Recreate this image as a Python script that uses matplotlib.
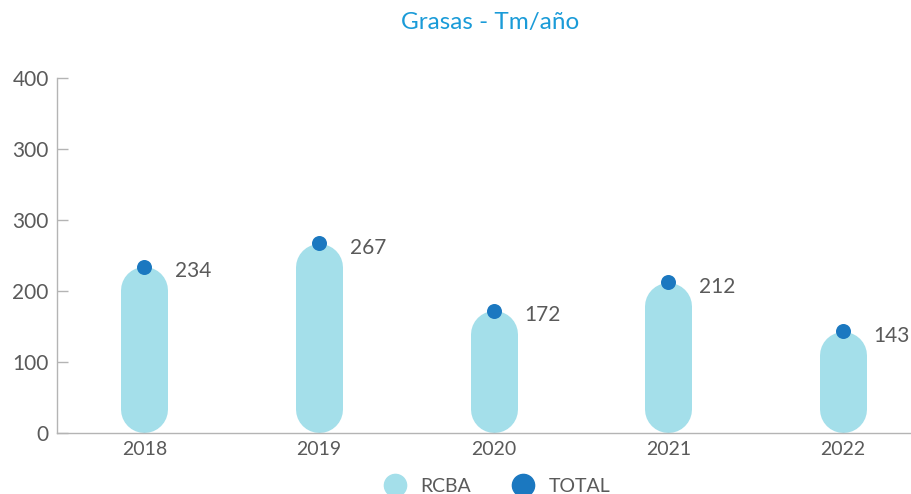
import matplotlib
matplotlib.use("Agg")
import matplotlib.pyplot as plt
from matplotlib.lines import Line2D

# data
years = ["2018", "2019", "2020", "2021", "2022"]
rcba = [234, 267, 172, 212, 143]
total = [234, 267, 172, 212, 143]
ytick_vals = [0, 100, 200, 300, 400, 500]
ytick_labels = ["0", "100", "200", "300", "300", "400"]

BAR = "#a4dfea"; DOT = "#1b78c0"; TITLE = "#1a9bd8"; INK = "#5a5a5a"; AXIS = "#b4b4b4"
plt.rcParams["font.family"] = ["Lato", "DejaVu Sans"]

DPI = 100
fig = plt.figure(figsize=(9.11, 4.94), dpi=DPI)
ax = fig.add_axes([0.0626, 0.1235, 0.9374, 0.7186])
ax.set_xlim(-0.5, 4.39)
ax.set_ylim(0, 500)

# pill-shaped bars: thick lines with round caps, shortened by the cap radius
bar_px = 47
px_per_unit = ax.bbox.height / 500
r = (bar_px / 2) / px_per_unit
xs = list(range(len(years)))
for x, v in zip(xs, rcba):
    ax.plot([x, x], [r, v - r], color=BAR, lw=bar_px * 72 / DPI,
            solid_capstyle="round", zorder=2)
ax.scatter(xs, total, s=(15 * 72 / DPI) ** 2, color=DOT, zorder=3, linewidths=0)
for x, v in zip(xs, total):
    ax.annotate(str(v), (x, v), xytext=(22, -3), textcoords="offset points",
                ha="left", va="center", fontsize=15, color=INK)

ax.set_xticks(xs)
ax.set_xticklabels(years, fontsize=14, color=INK)
ax.set_yticks(ytick_vals)
ax.set_yticklabels(ytick_labels, fontsize=15, color=INK)
ax.tick_params(axis="x", length=0, pad=6)
ax.tick_params(axis="y", direction="in", length=8, color=AXIS, width=1, pad=6)
for s in ["top", "right"]:
    ax.spines[s].set_visible(False)
for s in ["left", "bottom"]:
    ax.spines[s].set_color(AXIS)
    ax.spines[s].set_linewidth(1)

fig.text(0.538, 0.955, "Grasas - Tm/año", ha="center", va="center",
         fontsize=17.5, color=TITLE)

handles = [Line2D([], [], ls="", marker="o", ms=16, color=BAR, label="RCBA"),
           Line2D([], [], ls="", marker="o", ms=16, color=DOT, label="TOTAL")]
leg = fig.legend(handles=handles, loc="center", bbox_to_anchor=(0.541, 0.015),
                 ncol=2, frameon=False, fontsize=14, handletextpad=0.3,
                 columnspacing=1.7)
for t in leg.get_texts():
    t.set_color(INK)

fig.savefig("out.png", dpi=DPI)
